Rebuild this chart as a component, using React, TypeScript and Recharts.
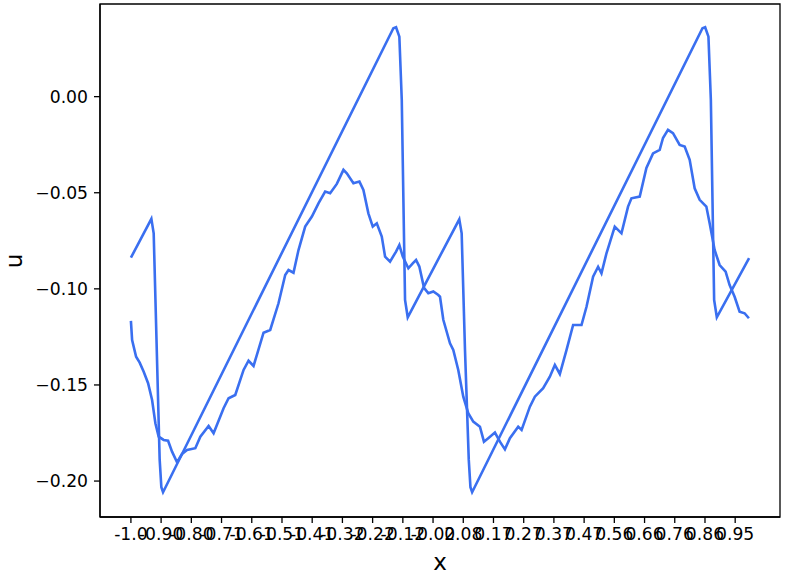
import React from 'react';
import { LineChart, Line, XAxis, YAxis, ReferenceArea } from 'recharts';

// Exact (sawtooth) solution
const sawX = [-1.0, -0.9338, -0.9263, -0.9069, -0.9015, -0.896, -0.1509, -0.1422, -0.1315, -0.1237, -0.1131, -0.1044,
  0.0624, 0.0701, 0.0808, 0.0931, 0.0985, 0.104, 0.8491, 0.8578, 0.8685, 0.8763, 0.8869, 0.8956, 1.0];
const sawY = [-0.0838, -0.0636, -0.0711, -0.189, -0.2032, -0.2058, 0.0356, 0.0361, 0.0312, -0.0017, -0.1058, -0.1148,
  -0.0638, -0.0711, -0.1316, -0.189, -0.2032, -0.2058, 0.0356, 0.0361, 0.0312, -0.0017, -0.1058, -0.1148, -0.084];

// Predicted (noisy) solution
const predX = [-1.0, -0.9961, -0.9832, -0.9716, -0.9586, -0.9444, -0.9315, -0.9208, -0.9102, -0.894, -0.8798, -0.8669,
  -0.8507, -0.8346, -0.8184, -0.7916, -0.7754, -0.7486, -0.7325, -0.7002, -0.684, -0.6624, -0.6355, -0.6194, -0.6032,
  -0.5709, -0.5493, -0.5225, -0.5008, -0.4901, -0.474, -0.4578, -0.4362, -0.4145, -0.3932, -0.3716, -0.3554, -0.3338,
  -0.3124, -0.3015, -0.2801, -0.2607, -0.2478, -0.2317, -0.2175, -0.2045, -0.1884, -0.1777, -0.1616, -0.1422, -0.1315,
  -0.1205, -0.1024, -0.0882, -0.0775, -0.0669, -0.0517, -0.0378, -0.0216, -0.0055, 0.0, 0.0107, 0.0323, 0.043, 0.0591,
  0.0753, 0.0914, 0.1076, 0.1292, 0.1422, 0.1561, 0.1777, 0.1939, 0.21, 0.2262, 0.253, 0.264, 0.2908, 0.3069, 0.3338,
  0.3554, 0.3716, 0.3877, 0.4094, 0.4307, 0.4578, 0.474, 0.4953, 0.5115, 0.5224, 0.5386, 0.5654, 0.5871, 0.6084, 0.6194,
  0.6462, 0.6678, 0.6892, 0.7108, 0.7215, 0.7376, 0.7538, 0.7754, 0.7916, 0.8078, 0.8239, 0.8401, 0.8617, 0.8724, 0.8885,
  0.9047, 0.9241, 0.937, 0.9532, 0.9693, 0.9855, 0.9994];
const predY = [-0.1167, -0.1266, -0.1353, -0.1384, -0.1431, -0.1491, -0.1578, -0.1699, -0.1769, -0.1786, -0.179, -0.1847,
  -0.1902, -0.1859, -0.1838, -0.1829, -0.1769, -0.1713, -0.1751, -0.1621, -0.1569, -0.1552, -0.1422, -0.1374, -0.1401,
  -0.1228, -0.1214, -0.1075, -0.0928, -0.0902, -0.0916, -0.0798, -0.0676, -0.0624, -0.0555, -0.0494, -0.0503, -0.0454,
  -0.0381, -0.0399, -0.0451, -0.0442, -0.0485, -0.0607, -0.0676, -0.0659, -0.0728, -0.0832, -0.0858, -0.0806, -0.0772,
  -0.0832, -0.0893, -0.0867, -0.085, -0.0884, -0.0995, -0.1023, -0.1014, -0.1032, -0.1041, -0.1161, -0.1283, -0.1318,
  -0.1422, -0.1561, -0.1647, -0.1691, -0.1717, -0.1795, -0.1777, -0.1748, -0.1795, -0.1835, -0.1777, -0.1717, -0.1734,
  -0.1613, -0.1561, -0.1517, -0.1457, -0.1396, -0.1443, -0.1318, -0.1188, -0.1188, -0.1093, -0.0937, -0.0885, -0.0919,
  -0.0815, -0.0676, -0.0711, -0.0572, -0.0529, -0.052, -0.0371, -0.0295, -0.0277, -0.0215, -0.0173, -0.019, -0.0251,
  -0.026, -0.0329, -0.0477, -0.0537, -0.0572, -0.0659, -0.0798, -0.0876, -0.0911, -0.098, -0.1041, -0.1119, -0.1127,
  -0.1153];

const xTickValues = [-1.0, -0.9023, -0.8045, -0.7068, -0.609, -0.5112, -0.4135, -0.3157, -0.218, -0.1202, -0.0225,
  0.0753, 0.173, 0.2708, 0.3685, 0.4663, 0.564, 0.6618, 0.7595, 0.8573, 0.955];
const xTickLabels = ['-1.0', '-0.90', '-0.80', '-0.71', '-0.61', '-0.51', '-0.41', '-0.32', '-0.22', '-0.12', '-0.02',
  '0.08', '0.17', '0.27', '0.37', '0.47', '0.56', '0.66', '0.76', '0.86', '0.95'];
const yTickValues = [-0.2, -0.15, -0.1, -0.05, 0.0];
const yTickLabels = ['\u22120.20', '\u22120.15', '\u22120.10', '\u22120.05', '0.00'];

const sawData = sawX.map((x, i) => ({ x, y: sawY[i] }));
const predData = predX.map((x, i) => ({ x, y: predY[i] }));

const COLOR = '#3a6ff0';
const FONT = 'DejaVu Sans, sans-serif';

export default function App() {
  const tickStyle = { fontSize: 17.2, fill: '#000', fontFamily: FONT };
  return (
    <div style={{ position: 'absolute', left: 0, top: 0, width: 785, height: 574, background: '#fff' }}>
      <LineChart width={785} height={574} margin={{ top: 4, right: 5, bottom: 0, left: 0 }}>
        <XAxis
          type="number"
          dataKey="x"
          domain={[-1.1, 1.1]}
          ticks={xTickValues}
          interval={0}
          allowDataOverflow
          height={57}
          tickSize={6}
          tickMargin={5}
          tick={tickStyle}
          stroke="#000"
          tickLine={{ stroke: '#000', strokeWidth: 1.3 }}
          axisLine={{ stroke: '#000', strokeWidth: 1.3 }}
          tickFormatter={(v: number) => {
            const i = xTickValues.indexOf(v);
            return i >= 0 ? xTickLabels[i] : '';
          }}
          label={() => (
            <text x={440} y={570} textAnchor="middle" fontSize={23} fontFamily={FONT} fill="#000">x</text>
          )}
        />
        <YAxis
          type="number"
          dataKey="y"
          domain={[-0.2187, 0.0482]}
          ticks={yTickValues}
          interval={0}
          allowDataOverflow
          width={100}
          tickSize={6}
          tickMargin={6}
          tick={tickStyle}
          stroke="#000"
          tickLine={{ stroke: '#000', strokeWidth: 1.3 }}
          axisLine={{ stroke: '#000', strokeWidth: 1.3 }}
          tickFormatter={(v: number) => {
            const i = yTickValues.indexOf(v);
            return i >= 0 ? yTickLabels[i] : '';
          }}
          label={() => (
            <text x={22} y={261} transform="rotate(-90 22 261)" textAnchor="middle" fontSize={23} fontFamily={FONT} fill="#000">u</text>
          )}
        />
        <ReferenceArea x1={-1.1} x2={1.1} y1={-0.2187} y2={0.0482} fill="none" fillOpacity={0} stroke="#000" strokeWidth={1.3} />
        <Line data={sawData} dataKey="y" type="linear" dot={false} stroke={COLOR} strokeWidth={2.6} isAnimationActive={false} />
        <Line data={predData} dataKey="y" type="linear" dot={false} stroke={COLOR} strokeWidth={2.6} isAnimationActive={false} />
      </LineChart>
    </div>
  );
}
